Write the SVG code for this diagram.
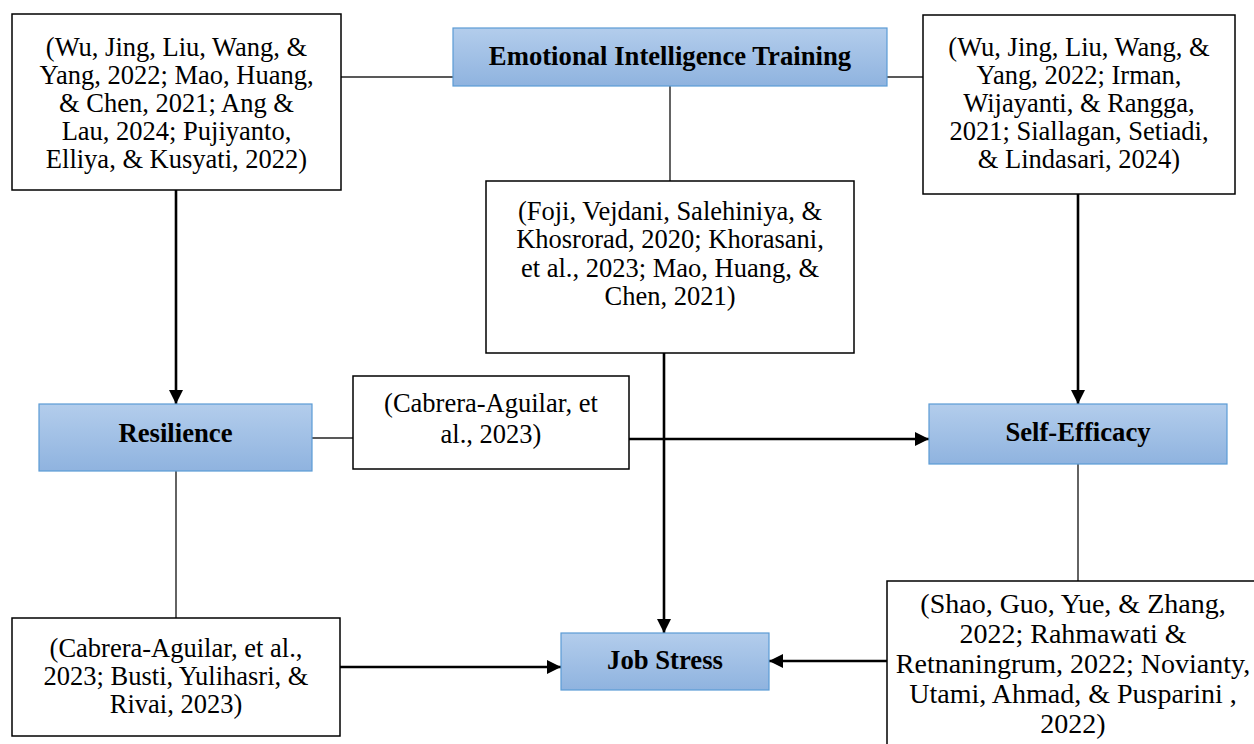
<svg xmlns="http://www.w3.org/2000/svg" width="1254" height="744" viewBox="0 0 1254 744">
<defs>
<linearGradient id="blue" x1="0" y1="0" x2="0" y2="1">
<stop offset="0" stop-color="#b3cdec"/>
<stop offset="1" stop-color="#8fb3df"/>
</linearGradient>
<marker id="arr" markerUnits="userSpaceOnUse" markerWidth="16" markerHeight="16" refX="14" refY="7" orient="auto">
<path d="M0,0 L14,7 L0,14 Z" fill="#000"/>
</marker>
</defs>
<style>
.node{fill:url(#blue);stroke:#5b9bd5;stroke-width:1.2}
.cite{fill:#fff;stroke:#000;stroke-width:1.5}
.lbl{font-family:"Liberation Serif","Times New Roman",serif;font-weight:bold;font-size:26.7px;text-anchor:middle;fill:#000}
.txt{font-family:"Liberation Serif","Times New Roman",serif;font-size:26.5px;text-anchor:middle;fill:#000}
.big{font-size:28px}
.thin{stroke:#222;stroke-width:1.4;fill:none}
.arrow{stroke:#000;stroke-width:2.6;fill:none;marker-end:url(#arr)}
</style>
<rect width="1254" height="744" fill="#fff"/>
<g id="connectors">
<line class="thin" x1="341" y1="77" x2="453" y2="77"/>
<line class="thin" x1="887" y1="77" x2="923" y2="77"/>
<line class="thin" x1="670" y1="86" x2="670" y2="181"/>
<line class="thin" x1="312" y1="438" x2="353" y2="438"/>
<line class="thin" x1="176" y1="471" x2="176" y2="618"/>
<line class="thin" x1="1078" y1="464" x2="1078" y2="581"/>
<line class="arrow" x1="176" y1="190" x2="176" y2="404"/>
<line class="arrow" x1="1078" y1="194" x2="1078" y2="404"/>
<line class="arrow" x1="664" y1="353" x2="664" y2="633"/>
<line class="arrow" x1="629" y1="439" x2="929" y2="439"/>
<line class="arrow" x1="340" y1="667" x2="561" y2="667"/>
<line class="arrow" x1="887" y1="661" x2="769" y2="661"/>
</g>
<g id="eit">
<rect class="node" x="453" y="28" width="434" height="58"/>
<text class="lbl" x="670" y="65">Emotional Intelligence Training</text>
</g>
<g id="cite-tl">
<rect class="cite" x="12" y="14" width="329" height="176"/>
<text class="txt" x="176.5" y="56">(Wu, Jing, Liu, Wang, &amp;</text>
<text class="txt" x="176.5" y="84">Yang, 2022; Mao, Huang,</text>
<text class="txt" x="176.5" y="112">&amp; Chen, 2021; Ang &amp;</text>
<text class="txt" x="176.5" y="140">Lau, 2024; Pujiyanto,</text>
<text class="txt" x="176.5" y="168">Elliya, &amp; Kusyati, 2022)</text>
</g>
<g id="cite-tr">
<rect class="cite" x="923" y="15" width="312" height="179"/>
<text class="txt" x="1079" y="56">(Wu, Jing, Liu, Wang, &amp;</text>
<text class="txt" x="1079" y="84">Yang, 2022; Irman,</text>
<text class="txt" x="1079" y="112">Wijayanti, &amp; Rangga,</text>
<text class="txt" x="1079" y="140">2021; Siallagan, Setiadi,</text>
<text class="txt" x="1079" y="168">&amp; Lindasari, 2024)</text>
</g>
<g id="cite-mid">
<rect class="cite" x="486" y="181" width="368" height="172"/>
<text class="txt" x="670" y="220">(Foji, Vejdani, Salehiniya, &amp;</text>
<text class="txt" x="670" y="248">Khosrorad, 2020; Khorasani,</text>
<text class="txt" x="670" y="277">et al., 2023; Mao, Huang, &amp;</text>
<text class="txt" x="670" y="305">Chen, 2021)</text>
</g>
<g id="resilience">
<rect class="node" x="39" y="404" width="273" height="67"/>
<text class="lbl" x="175.5" y="442">Resilience</text>
</g>
<g id="cite-res-se">
<rect class="cite" x="353" y="376" width="276" height="93"/>
<text class="txt" x="491" y="412">(Cabrera-Aguilar, et</text>
<text class="txt" x="491" y="443">al., 2023)</text>
</g>
<g id="self-efficacy">
<rect class="node" x="929" y="404" width="298" height="60"/>
<text class="lbl" x="1078" y="441">Self-Efficacy</text>
</g>
<g id="cite-bl">
<rect class="cite" x="12" y="618" width="328" height="118"/>
<text class="txt" x="176" y="657">(Cabrera-Aguilar, et al.,</text>
<text class="txt" x="176" y="685">2023; Busti, Yulihasri, &amp;</text>
<text class="txt" x="176" y="713">Rivai, 2023)</text>
</g>
<g id="job-stress">
<rect class="node" x="561" y="633" width="208" height="57"/>
<text class="lbl" x="665" y="669">Job Stress</text>
</g>
<g id="cite-br">
<rect class="cite" x="887" y="581" width="420" height="200"/>
<text class="txt big" x="1073" y="613">(Shao, Guo, Yue, &amp; Zhang,</text>
<text class="txt big" x="1073" y="643">2022; Rahmawati &amp;</text>
<text class="txt big" x="1073" y="673">Retnaningrum, 2022; Novianty,</text>
<text class="txt big" x="1073" y="703">Utami, Ahmad, &amp; Pusparini ,</text>
<text class="txt big" x="1073" y="733">2022)</text>
</g>
</svg>
